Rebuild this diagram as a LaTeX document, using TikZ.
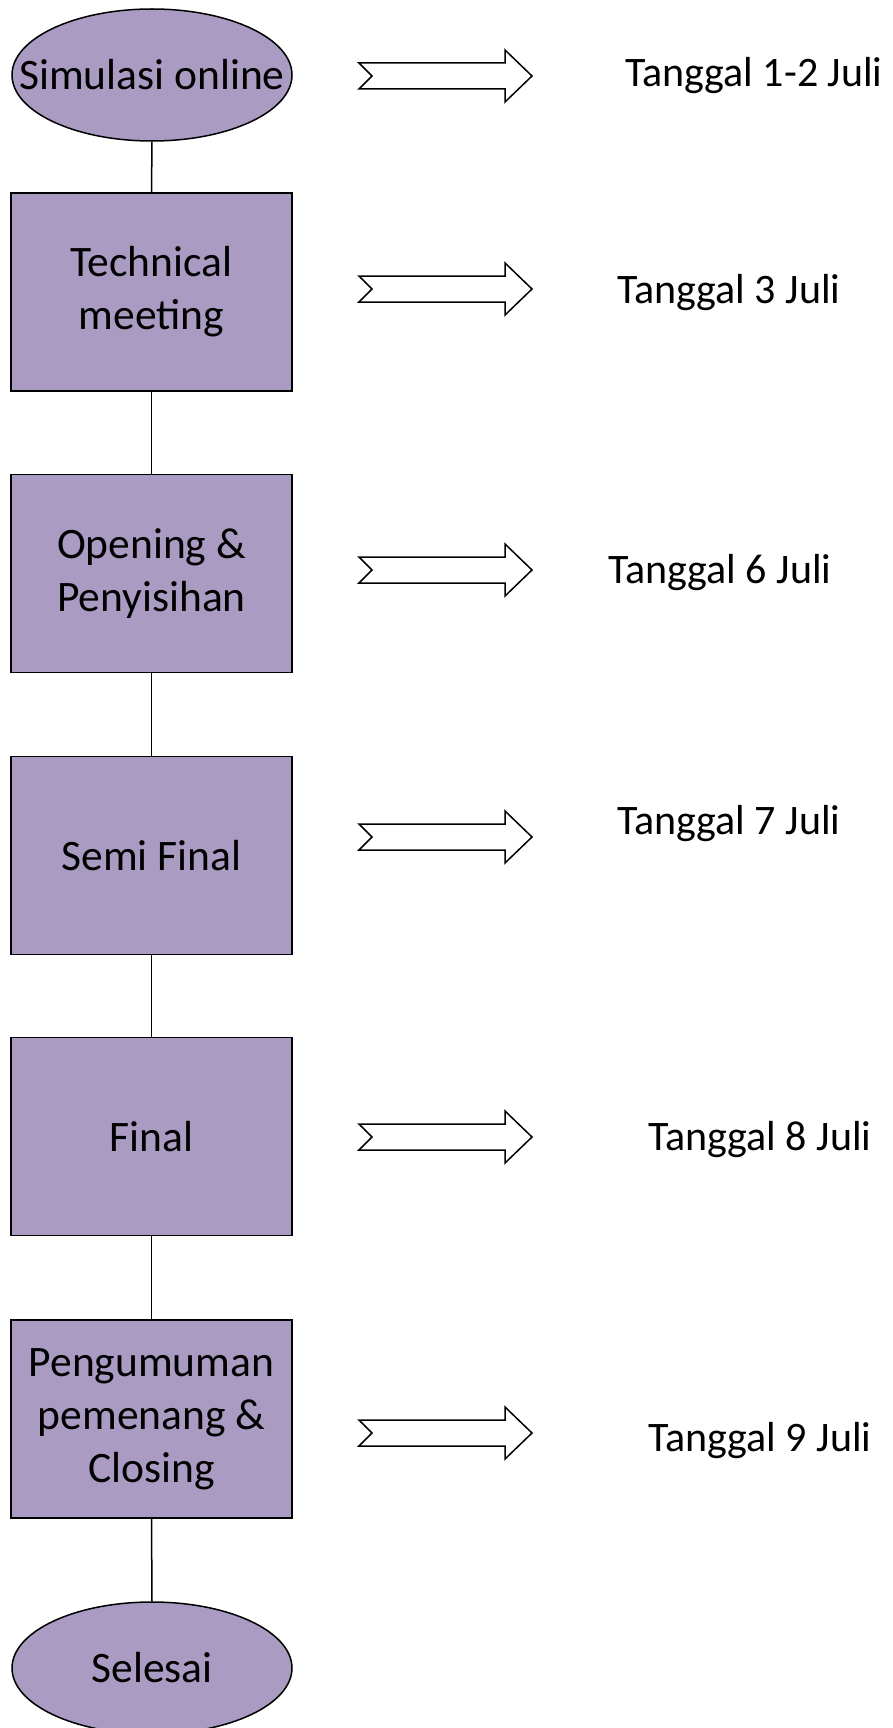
\documentclass[tikz,border=0pt]{standalone}
\usepackage{fontspec}
\setmainfont{Carlito}
\usetikzlibrary{shapes.geometric}
\definecolor{lav}{HTML}{A99BC2}
\tikzset{
  every picture/.style={x=1pt,y=-1pt},
  stepbox/.style={draw=black, line width=1.5pt, fill=lav, rectangle, minimum width=281pt, minimum height=198pt, inner sep=0pt, align=center, font=\fontsize{43.5}{53}\selectfont},
  endoval/.style={draw=black, line width=1.5pt, fill=lav, ellipse, minimum width=280pt, minimum height=132pt, inner sep=0pt, font=\fontsize{43.5}{53}\selectfont},
  datelabel/.style={anchor=west, inner sep=0pt, font=\fontsize{42}{50}\selectfont},
  link/.style={draw=black, line width=1.5pt},
  bigarrow/.style={draw=black, line width=1.5pt, fill=white, line join=miter}
}
\begin{document}
\begin{tikzpicture}
\useasboundingbox (0,0) rectangle (893,1728);
\node[endoval] (e1) at (152,75) {\makebox[0pt]{Simulasi online}};
\node[stepbox] (r1) at (151.5,292) {Technical\\meeting};
\node[stepbox] (r2) at (151.5,573.5) {Opening \&\\Penyisihan};
\node[stepbox] (r3) at (151.5,855.5) {Semi Final};
\node[stepbox] (r4) at (151.5,1136.5) {Final};
\node[stepbox] (r5) at (151.5,1419) {Pengumuman\\pemenang \&\\Closing};
\node[endoval] (e2) at (152,1668) {\makebox[0pt]{Selesai}};
\draw[link] (e1.south) -- (r1.north);
\draw[link] (r1.south) -- (r2.north);
\draw[link] (r2.south) -- (r3.north);
\draw[link] (r3.south) -- (r4.north);
\draw[link] (r4.south) -- (r5.north);
\draw[link] (r5.south) -- (e2.north);
% arrows
\foreach \c in {76,289,570,837,1137,1433}{
  \draw[bigarrow] (359,\c-13) -- (505,\c-13) -- (505,\c-26) -- (532,\c) -- (505,\c+26) -- (505,\c+13) -- (359,\c+13) -- (372,\c) -- cycle;
}
% date labels
\node[datelabel] (d1) at (625,76) {Tanggal 1-2 Juli};
\node[datelabel] (d2) at (617,293) {Tanggal 3 Juli};
\node[datelabel] (d3) at (608,573) {Tanggal 6 Juli};
\node[datelabel] (d4) at (617,824) {Tanggal 7 Juli};
\node[datelabel] (d5) at (648,1140) {Tanggal 8 Juli};
\node[datelabel] (d6) at (648,1441) {Tanggal 9 Juli};
\end{tikzpicture}
\end{document}
